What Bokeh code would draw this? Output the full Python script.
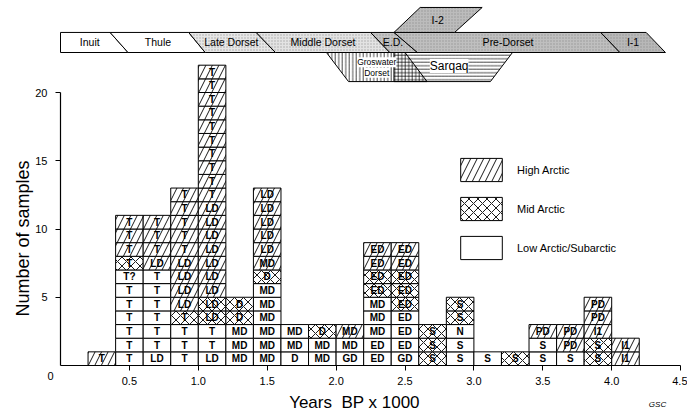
import math
from bokeh.plotting import figure
from bokeh.models import (Range1d, FixedTicker, Label, Legend, LegendItem,
                          ColumnDataSource, PrintfTickFormatter)
from bokeh.core.properties import value
from bokeh.embed import file_html
from bokeh.resources import INLINE

# ---------------- data ----------------
bin_starts = [0.2, 0.4, 0.6, 0.8, 1.0, 1.2, 1.4, 1.6, 1.8, 2.0,
              2.2, 2.4, 2.6, 2.8, 3.0, 3.2, 3.4, 3.6, 3.8, 4.0]
bin_width = 0.2

# sample labels per bin, listed from the bottom of the stack upwards
col_labels = [
    ["T"],
    ["T", "T", "T", "T", "T", "T", "T?", "T", "T", "T", "T"],
    ["LD", "T", "T", "T", "T", "T", "T", "LD", "T", "T", "T"],
    ["T", "T", "T", "T", "LD", "LD", "LD", "LD", "T", "T", "T", "T", "T"],
    ["LD", "T", "T", "LD", "LD", "LD", "LD", "LD", "LD", "LD", "LD", "LD",
     "T", "T", "T", "T", "T", "T", "T", "T", "T", "T"],
    ["MD", "MD", "MD", "D", "D"],
    ["MD", "MD", "MD", "MD", "MD", "MD", "D", "MD", "LD", "LD", "LD", "LD", "LD"],
    ["D", "MD", "MD"],
    ["MD", "MD", "D"],
    ["GD", "MD", "MD"],
    ["ED", "ED", "MD", "MD", "MD", "ED", "ED", "ED", "ED"],
    ["GD", "ED", "ED", "ED", "ED", "ED", "ED", "ED", "ED"],
    ["S", "S", "S"],
    ["S", "S", "N", "S", "S"],
    ["S"],
    ["S"],
    ["S", "S", "PD"],
    ["S", "PD", "PD"],
    ["S", "S", "I1", "PD", "PD"],
    ["I1", "I1"],
]
# zone of each sample: H = High Arctic, M = Mid Arctic, L = Low Arctic/Subarctic
col_zones = [
    "H",
    "LLLLLLLMHHH",
    "LLLLLLLHHHH",
    "LLLMHHHHHHHHH",
    "LLLMMHHHHHHHHHHHHHHHHH",
    "LLLMM",
    "LLLLLLMHHHHHH",
    "LLL",
    "LLM",
    "LLH",
    "LLLLLMMHH",
    "LLLLMMMHH",
    "MMM",
    "LLLMM",
    "L",
    "M",
    "LLH",
    "LHH",
    "MMHHH",
    "HH",
]
zone_names = {"H": "High Arctic", "M": "Mid Arctic", "L": "Low Arctic/Subarctic"}

x_ticks = [0.5, 1.0, 1.5, 2.0, 2.5, 3.0, 3.5, 4.0, 4.5]
y_ticks = [5, 10, 15, 20]

# cultural periods (ka BP): boundaries along top and bottom of the main band
period_names = ["Inuit", "Thule", "Late Dorset", "Middle Dorset", "E.D.",
                "Pre-Dorset", "I-1"]
period_top_edges = [0.0, 0.36, 0.93, 1.42, 2.25, 2.42, 3.92, 4.25]
period_bottom_edges = [0.0, 0.49, 1.05, 1.56, 2.39, 2.59, 4.06, 4.39]
# Independence II (upper band)
i2_top = [2.61, 3.06]
i2_bottom = [2.42, 2.86]
# lower band
groswater_top = [1.93, 2.50]
groswater_bottom = [2.09, 2.66]
sarqaq_top = [2.42, 3.28]
sarqaq_bottom = [2.42, 3.12]

# ---------------- figure ----------------
FONT = "Liberation Sans"
W, H = 687, 411
X0, Y0 = 60.0, 365.0        # pixel position of the data origin
PX_X, PX_Y = 137.8, 13.65   # pixels per unit
p = figure(width=W, height=H, output_backend="svg", toolbar_location=None,
           x_range=Range1d(-X0 / PX_X, (W - X0) / PX_X),
           y_range=Range1d(-(H - Y0) / PX_Y, Y0 / PX_Y),
           min_border_left=0, min_border_right=0, min_border_top=0,
           min_border_bottom=0)
p.outline_line_color = None
p.xgrid.visible = False
p.ygrid.visible = False
p.background_fill_color = "white"

# ---- stacked cells ----
cells = {z: dict(left=[], right=[], bottom=[], top=[], x=[], y=[], lab=[]) for z in "HML"}
for start, labs, zones in zip(bin_starts, col_labels, col_zones):
    for i, (lab, z) in enumerate(zip(labs, zones)):
        d = cells[z]
        d["left"].append(start)
        d["right"].append(start + bin_width)
        d["bottom"].append(i)
        d["top"].append(i + 1)
        d["x"].append(start + bin_width / 2)
        d["y"].append(i + 0.5)
        d["lab"].append(lab)

hatch_of = {"H": "/", "M": "x", "L": " "}
hscale = {"H": 13, "M": 9, "L": 12}
renderers = {}
for z in "LMH":
    src = ColumnDataSource(cells[z])
    r = p.quad(left="left", right="right", bottom="bottom", top="top", source=src,
               fill_color="white", line_color="black", line_width=1,
               hatch_pattern=hatch_of[z], hatch_color="black", hatch_weight=0.9,
               hatch_scale=hscale[z])
    renderers[z] = r
for z in "LMH":
    src = ColumnDataSource(cells[z])
    p.text(x="x", y="y", text="lab", source=src, text_align="center",
           text_baseline="middle", text_font=value(FONT), text_font_size="10px",
           text_font_style="bold", text_color="black")

# ---- cultural period bands ----
BT, BB = 24.40, 22.93      # main band top / bottom
UT = 26.23                 # upper band top
LB = 20.80                 # lower band bottom
period_fill = ["white", "white", "#e6e6e6", "#e3e3e3", "#c4c4c4", "#bfbfbf", "#b8b8b8"]
period_hatch = [" ", " ", ".", ".", ".", ".", "."]
xs, ys = [], []
for i in range(len(period_names)):
    xs.append([period_top_edges[i], period_top_edges[i + 1],
               period_bottom_edges[i + 1], period_bottom_edges[i]])
    ys.append([BT, BT, BB, BB])
p.patches(xs=xs, ys=ys, fill_color=period_fill, line_color="black", line_width=1,
          hatch_pattern=period_hatch, hatch_color="#7a7a7a", hatch_scale=3,
          hatch_weight=0.7, hatch_alpha=0.6)
lx = [(period_top_edges[i] + period_top_edges[i + 1] + period_bottom_edges[i] +
       period_bottom_edges[i + 1]) / 4 for i in range(len(period_names))]
p.text(x=lx, y=[(BT + BB) / 2] * len(lx), text=period_names, text_align="center",
       text_baseline="middle", text_font=value(FONT), text_font_size="10.5px",
       text_color="black")

# Independence II
p.patch(x=[i2_bottom[0], i2_top[0], i2_top[1], i2_bottom[1]], y=[BT, UT, UT, BT],
        fill_color="#bcbcbc", line_color="black", line_width=1,
        hatch_pattern=".", hatch_color="#7a7a7a", hatch_scale=3, hatch_weight=0.7,
        hatch_alpha=0.6)
p.text(x=[sum(i2_top + i2_bottom) / 4], y=[(BT + UT) / 2], text=["I-2"],
       text_align="center", text_baseline="middle", text_font=value(FONT),
       text_font_size="10.5px", text_color="black")

# Groswater Dorset (vertical lines) and Sarqaq (horizontal lines)
p.patch(x=[groswater_top[0], groswater_top[1], groswater_bottom[1], groswater_bottom[0]],
        y=[BB, BB, LB, LB], fill_color="white", line_color="black", line_width=1,
        hatch_pattern="|", hatch_color="black", hatch_scale=3.5, hatch_weight=0.7)
p.patch(x=[sarqaq_top[0], sarqaq_top[1], sarqaq_bottom[1], sarqaq_bottom[0]],
        y=[BB, BB, LB, LB], fill_alpha=0, line_color="black", line_width=1,
        hatch_pattern="-", hatch_color="black", hatch_scale=3.5, hatch_weight=0.7)
gx = sum(groswater_top + groswater_bottom) / 4
p.text(x=[gx, gx], y=[22.22, 21.45], text=["Groswater", "Dorset"],
       text_align="center", text_baseline="middle", text_font=value(FONT),
       text_font_size="8.5px", text_color="black", background_fill_color="white")
p.text(x=[groswater_bottom[1] + 0.02], y=[21.95], text=["Sarqaq"],
       text_align="left", text_baseline="middle", text_font=value(FONT),
       text_font_size="12px", text_color="black", background_fill_color="white")

# ---- axes (drawn at the data origin) ----
xa = p.xaxis[0]
xa.ticker = FixedTicker(ticks=x_ticks)
xa.formatter = PrintfTickFormatter(format="%.1f")
xa.bounds = (0, 4.5)
xa.fixed_location = 0
ya = p.yaxis[0]
ya.ticker = FixedTicker(ticks=y_ticks)
ya.bounds = (0, 20)
ya.fixed_location = 0
for ax in (xa, ya):
    ax.minor_tick_line_color = None
    ax.major_tick_out = 5
    ax.major_tick_in = 0
    ax.axis_line_width = 1.2
    ax.major_tick_line_width = 1
    ax.major_label_text_font = FONT
    ax.major_label_text_font_size = "11px"
    ax.major_label_text_color = "black"
    ax.axis_line_color = "black"
    ax.major_tick_line_color = "black"
xa.major_label_standoff = 6
ya.major_label_standoff = 8

def px_to_x(px):
    return (px - X0) / PX_X

def py_to_y(py):
    return (Y0 - py) / PX_Y

p.add_layout(Label(x=px_to_x(50), y=py_to_y(375), text="0", text_font=FONT,
                   text_font_size="11px", text_color="black",
                   text_align="center", text_baseline="middle"))
p.add_layout(Label(x=px_to_x(354), y=py_to_y(402), text="Years\u00a0\u00a0BP x 1000",
                   text_font=FONT, text_font_size="17px", text_color="black",
                   text_align="center", text_baseline="middle"))
p.add_layout(Label(x=px_to_x(22), y=py_to_y(238), text="Number of samples",
                   text_font=FONT, text_font_size="18px", text_color="black",
                   text_align="center", text_baseline="middle", angle=math.pi / 2))
p.add_layout(Label(x=px_to_x(657), y=py_to_y(404), text="GSC", text_font=FONT,
                   text_font_size="8px", text_font_style="italic", text_color="black",
                   text_align="center", text_baseline="middle"))

# ---- legend ----
legend = Legend(items=[LegendItem(label=zone_names["H"], renderers=[renderers["H"]]),
                       LegendItem(label=zone_names["M"], renderers=[renderers["M"]]),
                       LegendItem(label=zone_names["L"], renderers=[renderers["L"]])],
                location=(455, H - 262), orientation="vertical", glyph_width=52,
                glyph_height=29, spacing=10, padding=0, margin=0, label_standoff=10,
                border_line_color=None, background_fill_alpha=0,
                label_text_font=FONT, label_text_font_size="11px",
                label_text_color="black")
p.add_layout(legend)

open("out.html", "w").write(file_html(p, INLINE))
